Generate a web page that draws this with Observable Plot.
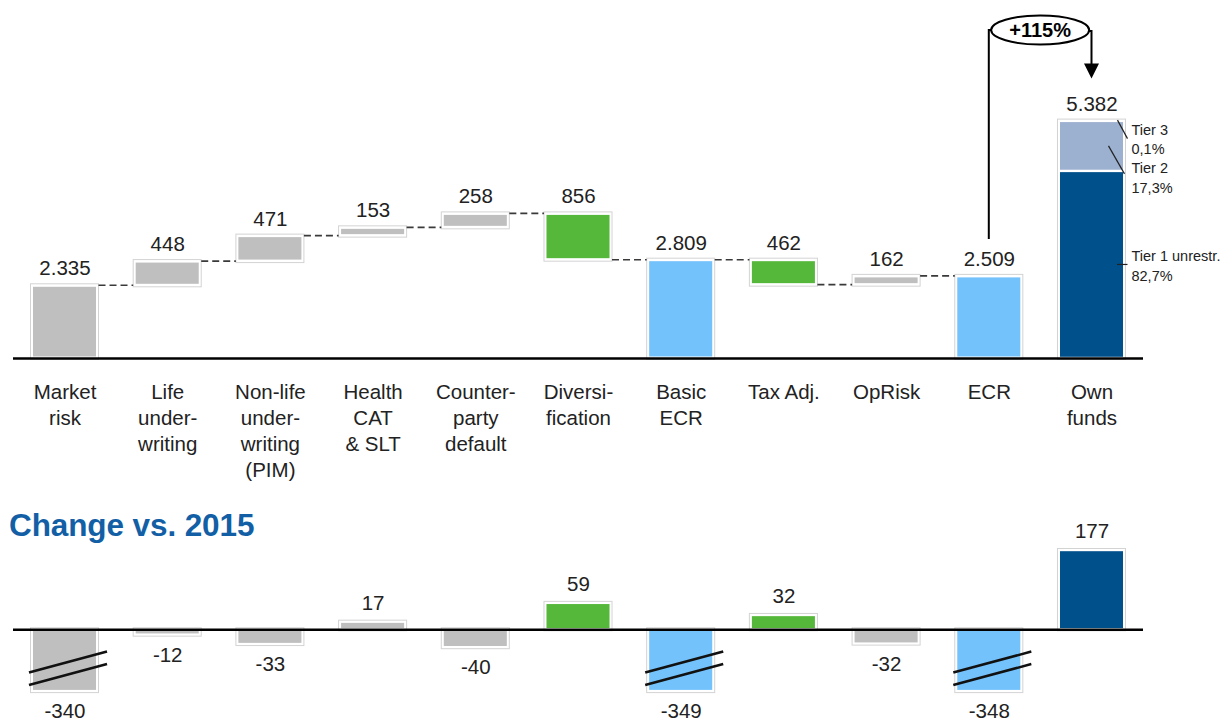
<!DOCTYPE html>
<html>
<head>
<meta charset="utf-8">
<script src="https://cdn.jsdelivr.net/npm/d3@7"></script>
<script src="https://cdn.jsdelivr.net/npm/@observablehq/plot@0.6"></script>
<style>
  html, body { margin: 0; padding: 0; background: #fff; }
  #wrap { position: relative; width: 1229px; height: 722px; overflow: hidden; font-family: "Liberation Sans", Arial, sans-serif; }
  #wrap svg { display: block; }
  #title { position: absolute; left: 9px; top: 510px; z-index: 2; font: bold 31.5px/1 "Liberation Sans", Arial, sans-serif; color: #125fa6; white-space: nowrap; letter-spacing: -0.1px; }
</style>
</head>
<body>
<div id="wrap">
  <div id="top"></div>
  <div id="bottom"></div>
  <div id="title"></div>
</div>
<script>
// ---------------- DATA ----------------
const categories = ["Market risk", "Life underwriting", "Non-life underwriting (PIM)", "Health CAT & SLT",
  "Counterparty default", "Diversification", "Basic ECR", "Tax Adj.", "OpRisk", "ECR", "Own funds"];
const categoryLabels = ["Market\nrisk", "Life\nunder-\nwriting", "Non-life\nunder-\nwriting\n(PIM)", "Health\nCAT\n& SLT",
  "Counter-\nparty\ndefault", "Diversi-\nfication", "Basic\nECR", "Tax Adj.", "OpRisk", "ECR", "Own\nfunds"];
// waterfall steps (deltas, or totals drawn from the axis)
const stepValues = [2335, 448, 471, 153, 258, -856, 2809, -462, 162, 2509, 5382];
const stepTypes = ["delta", "delta", "delta", "delta", "delta", "delta", "total", "delta", "delta", "total", "total"];
const barGroups = ["risk", "risk", "risk", "risk", "risk", "benefit", "subtotal", "benefit", "risk", "subtotal", "ownfunds"];
// own funds split
const tierNames = ["Tier 1 unrestr.", "Tier 2", "Tier 3"];
const tierShares = [82.7, 17.3, 0.1];
const tierGroups = ["tier1", "tier2", "tier3"];
// change vs. previous year
const compareYear = 2015;
const changes = [-340, -12, -33, 17, -40, 59, -349, 32, -32, -348, 177];

// ---------------- SETUP ----------------
const W = 1229;
const FONT = "Liberation Sans, Arial, sans-serif";
const TXT = "#222222";
const locale = d3.formatLocale({decimal: ",", thousands: ".", grouping: [3], currency: ["", "€"], minus: "-"});
const fmtInt = locale.format(",d");
const fmtPct = locale.format(",.1f");

const colorScale = {
  domain: ["risk", "benefit", "subtotal", "ownfunds", "tier1", "tier2", "tier3"],
  range: ["#bfbfbf", "#56b83a", "#74c2fc", "#00508c", "#00508c", "#9cb0cf", "#9cb0cf"]
};
const xScale = {domain: categories, paddingInner: 0.357, paddingOuter: 0.18, round: false, axis: null};

function scalesOf(svg) {
  const sx = svg.scale("x"), sy = svg.scale("y");
  const bx = d3.scaleBand(sx.domain, sx.range)
    .paddingInner(sx.paddingInner ?? sx.padding ?? 0)
    .paddingOuter(sx.paddingOuter ?? sx.padding ?? 0)
    .align(sx.align ?? 0.5).round(!!sx.round);
  const ly = d3.scaleLinear(sy.domain, sy.range).clamp(!!sy.clamp);
  return {bx, ly, bw: bx.bandwidth(), cx: v => bx(v) + bx.bandwidth() / 2};
}

// ---------------- TOP: waterfall ----------------
const yBreak = 990;                 // truncated value axis starts here
const yTopDomain = [yBreak, 7613];
let run = 0;
const steps = categories.map((cat, i) => {
  const v = stepValues[i];
  let y1, y2;
  if (stepTypes[i] === "total") { y1 = 0; y2 = v; } else { y1 = run; y2 = run + v; }
  run = y2;
  return {cat, group: barGroups[i], y1, y2, top: Math.max(y1, y2), label: fmtInt(Math.abs(v))};
});
const ownTotal = stepValues[stepValues.length - 1];
const t1Top = ownTotal * tierShares[0] / 100;
const t3Bottom = ownTotal - ownTotal * tierShares[2] / 100;
const tiers = [
  {cat: "Own funds", group: tierGroups[0], y1: 0, y2: t1Top},
  {cat: "Own funds", group: tierGroups[1], y1: t1Top, y2: t3Bottom},
  {cat: "Own funds", group: tierGroups[2], y1: t3Bottom, y2: ownTotal}
];
const tierMid1 = (yBreak + t1Top) / 2;
const tierMid2 = (t1Top + t3Bottom) / 2;
const tierText = tierNames.map((n, i) => n + "\n" + fmtPct(tierShares[i]) + "%");
const connectors = d3.range(0, categories.length - 2).map(i => ({from: categories[i], to: categories[i + 1], level: steps[i].y2}));

const topPlot = Plot.plot({
  width: W, height: 500,
  marginLeft: 13, marginRight: 86, marginTop: 0, marginBottom: 142,
  style: {fontFamily: FONT, background: "transparent", overflow: "visible"},
  x: xScale,
  y: {domain: yTopDomain, clamp: true, axis: null},
  color: colorScale,
  marks: [
    Plot.barY(steps, {x: "cat", y1: "y1", y2: "y2", fill: "white", stroke: "#d3d3d3", strokeWidth: 1,
      insetLeft: -1, insetRight: -1, insetTop: -1.5, insetBottom: -1.5}),
    Plot.barY(steps.filter(d => d.cat !== "Own funds"), {x: "cat", y1: "y1", y2: "y2", fill: "group",
      insetLeft: 1.5, insetRight: 1.5, insetTop: 1.5, insetBottom: 1.5}),
    Plot.barY(tiers, {x: "cat", y1: "y1", y2: "y2", fill: "group",
      insetLeft: 1.5, insetRight: 1.5, insetTop: 1.2, insetBottom: 1.2}),
    Plot.ruleY([0], {stroke: "black", strokeWidth: 2.6}),
    Plot.text(steps, {x: "cat", y: "top", text: "label", dy: -17, fontSize: 20.5, fill: TXT, lineAnchor: "middle"}),
    Plot.text(categories, {x: d => d, text: (d, i) => categoryLabels[i], frameAnchor: "bottom",
      lineAnchor: "top", dy: 22, fontSize: 20.5, lineHeight: 1.27, fill: TXT}),
    Plot.text([tierText[2]], {x: () => "Own funds", y: () => ownTotal, text: d => d, dx: 39.5, dy: 17,
      textAnchor: "start", lineAnchor: "middle", fontSize: 14.5, lineHeight: 1.36, fill: TXT}),
    Plot.text([tierText[1]], {x: () => "Own funds", y: () => tierMid2, text: d => d, dx: 39.5, dy: 30,
      textAnchor: "start", lineAnchor: "middle", fontSize: 14.5, lineHeight: 1.36, fill: TXT}),
    Plot.text([tierText[0]], {x: () => "Own funds", y: () => tierMid1, text: d => d, dx: 39.5, dy: 0,
      textAnchor: "start", lineAnchor: "middle", fontSize: 14.5, lineHeight: 1.36, fill: TXT})
  ]
});
document.getElementById("top").appendChild(topPlot);

{
  const {bx, ly, bw, cx} = scalesOf(topPlot);
  const g = d3.select(topPlot).append("g").attr("fill", "none");
  // dashed connectors between consecutive bars
  g.selectAll("line.conn").data(connectors).join("line")
    .attr("x1", d => bx(d.from) + bw + 1).attr("x2", d => bx(d.to) - 1)
    .attr("y1", d => ly(d.level)).attr("y2", d => ly(d.level))
    .attr("stroke", "#3a3a3a").attr("stroke-width", 1.6).attr("stroke-dasharray", "7,4");
  // tier leader lines
  const xo = cx("Own funds");
  const leaders = [
    [xo + 26, ly(ownTotal) - 0.5, xo + 36, ly(ownTotal) + 18],
    [xo + 17, ly(tierMid2), xo + 33, ly(tierMid2) + 28],
    [xo + 25.5, ly(tierMid1), xo + 36, ly(tierMid1)]
  ];
  g.selectAll("line.lead").data(leaders).join("line")
    .attr("x1", d => d[0]).attr("y1", d => d[1]).attr("x2", d => d[2]).attr("y2", d => d[3])
    .attr("stroke", "#222").attr("stroke-width", 1.2);
  // growth bracket ECR -> Own funds
  const ecr = stepValues[categories.indexOf("ECR")];
  const growth = Math.round((ownTotal / ecr - 1) * 100);
  const xa = cx("ECR"), xb = xo, ya = ly(ecr) - 37, tip = ly(ownTotal) - 42;
  const ecx = (xa + xb) / 2, ecy = 30, rx = 49, ry = 14.5;
  g.append("path")
    .attr("d", `M${xa},${ya}V${ecy}H${ecx - rx}M${ecx + rx},${ecy + 1}H${xb}V${tip - 14}`)
    .attr("stroke", "black").attr("stroke-width", 2);
  g.append("path").attr("d", `M${xb - 7.5},${tip - 15}L${xb + 7.5},${tip - 15}L${xb},${tip}Z`).attr("fill", "black");
  g.append("ellipse").attr("cx", ecx).attr("cy", ecy).attr("rx", rx).attr("ry", ry)
    .attr("fill", "white").attr("stroke", "black").attr("stroke-width", 2);
  g.append("text").attr("x", ecx).attr("y", ecy).attr("dy", "0.35em").attr("text-anchor", "middle")
    .attr("fill", "black").attr("font-size", 20).attr("font-weight", "bold").attr("font-family", FONT)
    .text((growth > 0 ? "+" : "") + growth + "%");
}

// ---------------- BOTTOM: change vs. year ----------------
document.getElementById("title").textContent = "Change vs. " + compareYear;
const yLowDomain = [-138, 288.6];   // bars beyond the lower limit are shown broken
const changeRows = categories.map((cat, i) => ({cat, group: barGroups[i], v: changes[i], label: fmtInt(changes[i])}));

const bottomPlot = Plot.plot({
  width: W, height: 222,
  marginLeft: 13, marginRight: 86, marginTop: 0, marginBottom: 30.9,
  style: {fontFamily: FONT, background: "transparent", overflow: "visible"},
  x: xScale,
  y: {domain: yLowDomain, clamp: true, axis: null},
  color: colorScale,
  marks: [
    Plot.barY(changeRows, {x: "cat", y1: 0, y2: "v", fill: "white", stroke: "#d3d3d3", strokeWidth: 1,
      insetLeft: -1, insetRight: -1, insetTop: -1.5, insetBottom: -1.5}),
    Plot.barY(changeRows, {x: "cat", y1: 0, y2: "v", fill: "group",
      insetLeft: 1.5, insetRight: 1.5, insetTop: 1.2, insetBottom: 1.2}),
    Plot.ruleY([0], {stroke: "black", strokeWidth: 2.6}),
    Plot.text(changeRows.filter(d => d.v >= 0), {x: "cat", y: "v", text: "label", dy: -19, fontSize: 20.5, fill: TXT, lineAnchor: "middle"}),
    Plot.text(changeRows.filter(d => d.v < 0), {x: "cat", y: "v", text: "label", dy: 20, fontSize: 20.5, fill: TXT, lineAnchor: "middle"})
  ]
});
document.getElementById("bottom").appendChild(bottomPlot);

{
  const {bx, ly, bw} = scalesOf(bottomPlot);
  const broken = changeRows.filter(d => d.v < yLowDomain[0]);
  const g = d3.select(bottomPlot).append("g");
  const offs = [[-18.5, -39.5], [-6, -27]];
  broken.forEach(d => {
    const xl = bx(d.cat) - 2.5, xr = bx(d.cat) + bw + 9.5, yb = ly(d.v);
    offs.forEach(o => {
      g.append("line").attr("x1", xl).attr("y1", yb + o[0]).attr("x2", xr).attr("y2", yb + o[1])
        .attr("stroke", "#111").attr("stroke-width", 2.6);
    });
  });
}
</script>
</body>
</html>
